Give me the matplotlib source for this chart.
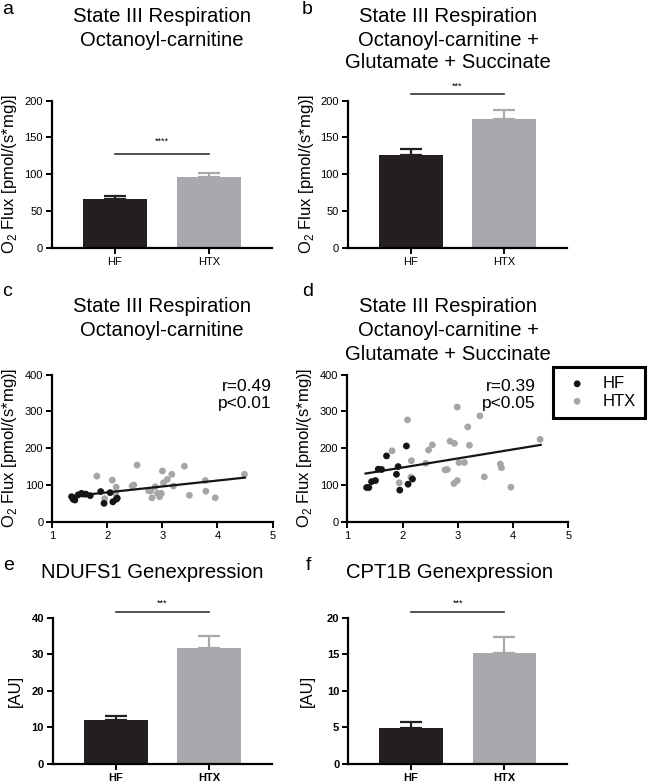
import matplotlib
matplotlib.use("Agg")
import matplotlib.pyplot as plt
import numpy as np

plt.rcParams['font.family'] = ['Liberation Sans', 'DejaVu Sans']
plt.rcParams['mathtext.fontset'] = 'custom'
plt.rcParams['mathtext.rm'] = 'Liberation Sans'

W, H = 654, 783
DARK = '#231f20'
GREY = '#a7a9ac'
SCAT_GREY = '#a6a6a6'

groups = ['HF', 'HTX']

# bar data: mean and upper error (SEM)
a_mean = [66, 96]
a_err = [4, 6]
b_mean = [126, 175]
b_err = [8, 12]
e_mean = [12.0, 31.8]
e_err = [1.0, 3.3]
f_mean = [4.9, 15.2]
f_err = [0.85, 2.1]

# scatter c: octanoyl-carnitine
c_hf_x = [1.35, 1.38, 1.41, 1.47, 1.53, 1.56, 1.61, 1.69, 1.88, 2.05, 1.94, 2.10, 2.16, 2.18]
c_hf_y = [68, 61, 59, 73, 77, 75, 75, 71, 82, 79, 50, 54, 61, 64]
c_htx_x = [1.81, 2.09, 2.16, 1.95, 2.15, 2.45, 2.48, 2.54, 2.75, 2.79, 2.87, 2.81, 2.91,
           2.95, 2.98, 3.00, 3.02, 3.09, 3.17, 3.20, 3.40, 3.49, 3.78, 3.79, 3.96, 4.49]
c_htx_y = [124, 113, 94, 63, 77, 97, 100, 154, 84, 84, 95, 65, 77,
           68, 77, 138, 106, 115, 129, 97, 151, 72, 112, 83, 65, 129]
c_fit = [(1.33, 69), (4.5, 120)]

# scatter d: octanoyl-carnitine + glutamate + succinate
d_hf_x = [1.35, 1.39, 1.44, 1.51, 1.56, 1.62, 1.71, 1.89, 1.92, 1.95, 2.07, 2.10, 2.18]
d_hf_y = [93, 93, 109, 112, 143, 142, 179, 129, 150, 86, 206, 102, 116]
d_htx_x = [1.81, 1.94, 2.09, 2.16, 2.15, 2.42, 2.47, 2.54, 2.77, 2.81, 2.86, 2.94, 2.93,
           2.99, 2.99, 3.02, 3.12, 3.18, 3.21, 3.40, 3.48, 3.77, 3.79, 3.96, 4.49]
d_htx_y = [193, 106, 277, 166, 121, 159, 195, 209, 141, 142, 219, 213, 104,
           112, 312, 161, 161, 258, 208, 288, 122, 157, 147, 94, 224]
d_fit = [(1.33, 131), (4.5, 209)]


def px_axes(fig, l, t, r, b):
    return fig.add_axes([l / W, 1 - b / H, (r - l) / W, (b - t) / H])


def ftext(fig, x, y, s, **kw):
    fig.text(x / W, 1 - y / H, s, **kw)


def style_axes(ax, bold=False):
    for side in ['top', 'right']:
        ax.spines[side].set_visible(False)
    for side in ['left', 'bottom']:
        ax.spines[side].set_linewidth(1.6)
    ax.tick_params(direction='out', length=4.5, width=1.4, labelsize=8, pad=2)
    if bold:
        for lab in ax.get_xticklabels() + ax.get_yticklabels():
            lab.set_fontweight('bold')


def bar_panel(ax, means, errs, ymax, step, sig_y, bold=False):
    x = np.arange(len(groups))
    cols = [DARK, GREY]
    ax.bar(x, means, width=0.68, color=cols, zorder=2)
    for xi, m, e, c in zip(x, means, errs, cols):
        ax.errorbar(xi, m, yerr=[[0], [e]], color=c, capsize=8, elinewidth=1.6,
                    capthick=1.6, zorder=1)
    ax.set_xlim(-0.67, 1.67)
    ax.set_ylim(0, ymax)
    ax.set_yticks(np.arange(0, ymax + step / 2, step))
    ax.set_xticks(x)
    ax.set_xticklabels(groups)
    ax.plot([0, 1], [sig_y, sig_y], color='#333333', lw=1.2, clip_on=False)
    style_axes(ax, bold)
    return ax


def scatter_panel(ax, hx, hy, tx, ty, fit):
    ax.scatter(tx, ty, s=24, color=SCAT_GREY, edgecolors='none', zorder=2, label='HTX')
    ax.scatter(hx, hy, s=24, color='#151515', edgecolors='none', zorder=3, label='HF')
    fx, fy = zip(*fit)
    ax.plot(fx, fy, color='#151515', lw=1.6, zorder=4)
    ax.set_xlim(1, 5)
    ax.set_ylim(0, 400)
    ax.set_xticks([1, 2, 3, 4, 5])
    ax.set_yticks([0, 100, 200, 300, 400])
    style_axes(ax)


fig = plt.figure(figsize=(W / 100, H / 100), dpi=100)

ylab = 'O$_2$ Flux [pmol/(s*mg)]'
tfs = 14.6
yfs = 12
lfs = 14

# a
ax_a = px_axes(fig, 52, 100.7, 272, 247.7)
bar_panel(ax_a, a_mean, a_err, 200, 50, 128)
ax_a.text(0.5, 139, '****', ha='center', va='bottom', fontsize=6.5)
ftext(fig, 2, 10, 'a', fontsize=lfs, va='center')
ftext(fig, 162, 17, 'State III Respiration', fontsize=tfs, ha='center', va='center')
ftext(fig, 162, 41, 'Octanoyl-carnitine', fontsize=tfs, ha='center', va='center')
ftext(fig, 10, 174, ylab, fontsize=yfs, rotation=90, ha='center', va='center')

# b
ax_b = px_axes(fig, 348, 100.7, 567, 247.7)
bar_panel(ax_b, b_mean, b_err, 200, 50, 209)
ax_b.text(0.5, 214, '***', ha='center', va='bottom', fontsize=6.5)
ftext(fig, 302, 10, 'b', fontsize=lfs, va='center')
ftext(fig, 448, 16, 'State III Respiration', fontsize=tfs, ha='center', va='center')
ftext(fig, 448, 40, 'Octanoyl-carnitine +', fontsize=tfs, ha='center', va='center')
ftext(fig, 448, 63, 'Glutamate + Succinate', fontsize=tfs, ha='center', va='center')
ftext(fig, 307, 174, ylab, fontsize=yfs, rotation=90, ha='center', va='center')

# c
ax_c = px_axes(fig, 52.3, 374.7, 272.5, 521.7)
scatter_panel(ax_c, c_hf_x, c_hf_y, c_htx_x, c_htx_y, c_fit)
ax_c.text(4.98, 388, 'r=0.49\np<0.01', ha='right', va='top', fontsize=12.5, linespacing=1.15)
ftext(fig, 2, 291, 'c', fontsize=lfs, va='center')
ftext(fig, 162, 307, 'State III Respiration', fontsize=tfs, ha='center', va='center')
ftext(fig, 162, 331, 'Octanoyl-carnitine', fontsize=tfs, ha='center', va='center')
ftext(fig, 10, 448, ylab, fontsize=yfs, rotation=90, ha='center', va='center')

# d
ax_d = px_axes(fig, 347.3, 374.7, 568.3, 521.7)
scatter_panel(ax_d, d_hf_x, d_hf_y, d_htx_x, d_htx_y, d_fit)
ax_d.text(4.41, 388, 'r=0.39\np<0.05', ha='right', va='top', fontsize=12.5, linespacing=1.15)
ftext(fig, 302, 291, 'd', fontsize=lfs, va='center')
ftext(fig, 448, 307, 'State III Respiration', fontsize=tfs, ha='center', va='center')
ftext(fig, 448, 331, 'Octanoyl-carnitine +', fontsize=tfs, ha='center', va='center')
ftext(fig, 448, 355, 'Glutamate + Succinate', fontsize=tfs, ha='center', va='center')
ftext(fig, 305, 448, ylab, fontsize=yfs, rotation=90, ha='center', va='center')
h, l = ax_d.get_legend_handles_labels()
leg = fig.legend(h[::-1], l[::-1], loc='upper left', bbox_to_anchor=(553 / W, 1 - 367 / H),
                 fontsize=12, frameon=True, fancybox=False, edgecolor='black',
                 handletextpad=0.65, borderpad=0.55, labelspacing=0.15, handlelength=1.8,
                 borderaxespad=0, framealpha=1)
leg.get_frame().set_linewidth(2.2)

# e
ax_e = px_axes(fig, 53, 617.7, 272, 764)
bar_panel(ax_e, e_mean, e_err, 40, 10, 41.6, bold=True)
ax_e.text(0.5, 42.6, '***', ha='center', va='bottom', fontsize=6.5)
ftext(fig, 3, 566, 'e', fontsize=lfs, va='center')
ftext(fig, 152, 573, 'NDUFS1 Genexpression', fontsize=tfs, ha='center', va='center')
ftext(fig, 15, 691, '[AU]', fontsize=12, rotation=90, ha='center', va='center')

# f
ax_f = px_axes(fig, 348.3, 617.7, 567, 764)
bar_panel(ax_f, f_mean, f_err, 20, 5, 20.8, bold=True)
ax_f.text(0.5, 21.3, '***', ha='center', va='bottom', fontsize=6.5)
ftext(fig, 306, 566, 'f', fontsize=lfs, va='center')
ftext(fig, 450, 573, 'CPT1B Genexpression', fontsize=tfs, ha='center', va='center')
ftext(fig, 307, 691, '[AU]', fontsize=12, rotation=90, ha='center', va='center')

fig.savefig('out.png', dpi=100)
